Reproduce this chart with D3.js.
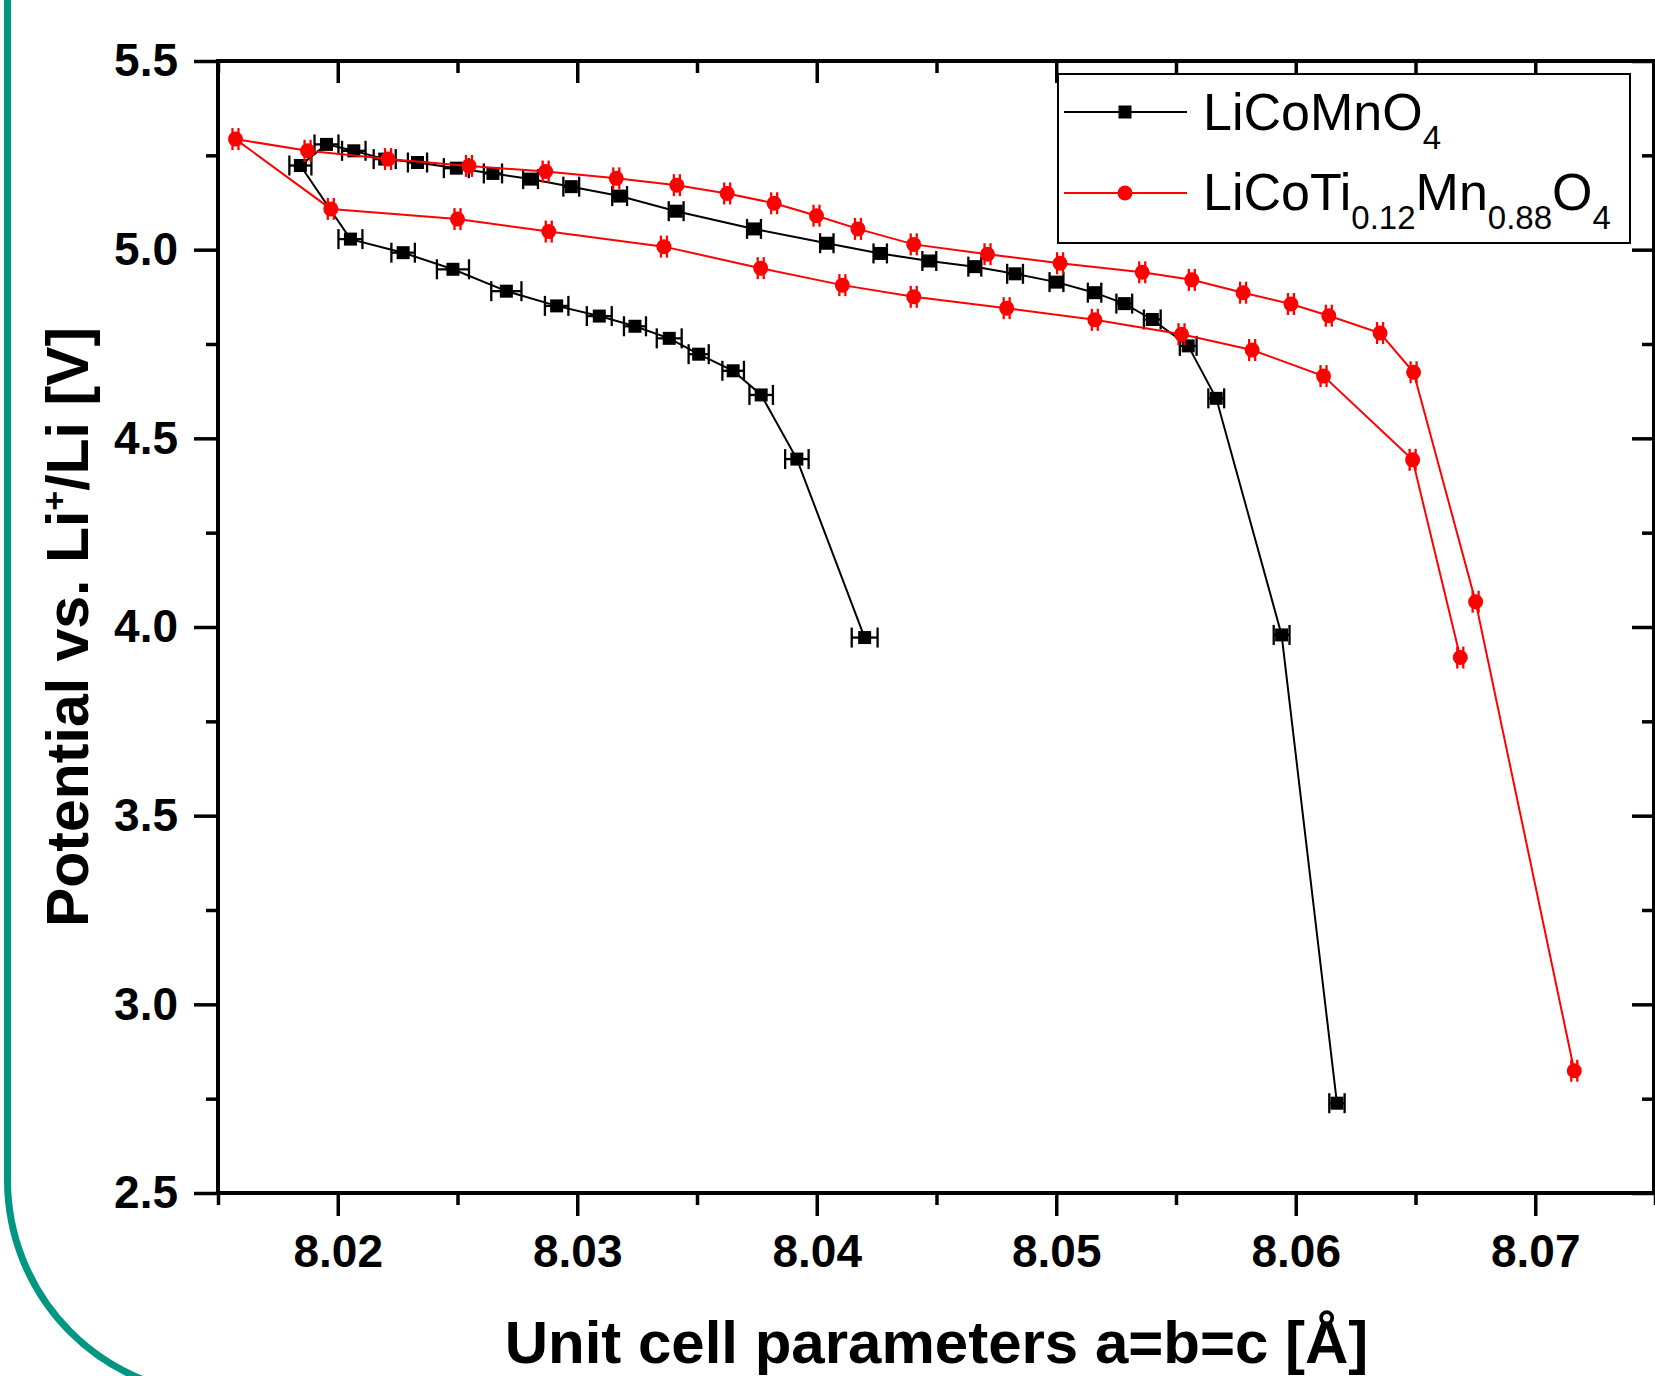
<!DOCTYPE html>
<html>
<head>
<meta charset="utf-8">
<script src="https://cdn.jsdelivr.net/npm/d3@7"></script>
<style>
  html, body { margin: 0; padding: 0; background: #fff; }
  svg { display: block; }
  text { font-family: "Liberation Sans", Arial, Helvetica, sans-serif; }
</style>
</head>
<body>
<svg id="chart" width="1655" height="1376"></svg>
<script>
// ---------------- DATA ----------------
// LiCoMnO4 : unit cell parameter a [Å], potential [V], x-error [Å]
const blackA = [8.0420, 8.03917, 8.03768, 8.03651, 8.03507, 8.03384, 8.03241, 8.03092, 8.02914, 8.02704,
                8.02481, 8.02273, 8.02053, 8.01844, 8.01953, 8.02067, 8.02196, 8.02333, 8.02495, 8.02648,
                8.02805, 8.02975, 8.03177, 8.03413, 8.03738, 8.04042, 8.04265, 8.04470, 8.04660, 8.04828,
                8.05001, 8.05160, 8.05284, 8.05401, 8.05551, 8.05668, 8.05941, 8.06172];
const blackV = [3.972, 4.445, 4.615, 4.679, 4.723, 4.765, 4.797, 4.824, 4.851, 4.890,
                4.948, 4.992, 5.028, 5.223, 5.279, 5.262, 5.240, 5.231, 5.216, 5.202,
                5.187, 5.167, 5.142, 5.102, 5.055, 5.017, 4.990, 4.970, 4.955, 4.936,
                4.914, 4.886, 4.857, 4.815, 4.745, 4.606, 3.979, 2.738];
const blackErr = [0.00054, 0.00049, 0.00049, 0.00045, 0.00042, 0.00052, 0.00046, 0.00052, 0.00049, 0.00063,
                  0.00067, 0.00049, 0.00050, 0.00046, 0.00050, 0.00049, 0.00046, 0.00040, 0.00052, 0.00038,
                  0.00031, 0.00033, 0.00031, 0.00031, 0.00029, 0.00028, 0.00028, 0.00029, 0.00027, 0.00033,
                  0.00029, 0.00028, 0.00033, 0.00035, 0.00035, 0.00033, 0.00033, 0.00032];

// LiCoTi0.12Mn0.88O4
const redA = [8.07163, 8.06751, 8.06492, 8.06352, 8.06138, 8.05980, 8.05780, 8.05566, 8.05359, 8.05016,
              8.04713, 8.04405, 8.04172, 8.03999, 8.03822, 8.03626, 8.03416, 8.03163, 8.02868, 8.02548,
              8.02210, 8.01874, 8.01573, 8.01971, 8.02500, 8.02881, 8.03362, 8.03766, 8.04107, 8.04405,
              8.04793, 8.05161, 8.05523, 8.05818, 8.06116, 8.06488, 8.06687];
const redV = [2.824, 4.067, 4.675, 4.779, 4.825, 4.856, 4.886, 4.920, 4.940, 4.964,
              4.988, 5.014, 5.055, 5.090, 5.123, 5.149, 5.171, 5.189, 5.207, 5.222,
              5.240, 5.262, 5.293, 5.108, 5.081, 5.048, 5.008, 4.951, 4.906, 4.875,
              4.845, 4.814, 4.776, 4.734, 4.665, 4.443, 3.919];
const redErr = redA.map(() => 0.000125);

const seriesNames = ["LiCoMnO4", "LiCoTi0.12Mn0.88O4"];
const xMajor = [8.02, 8.03, 8.04, 8.05, 8.06, 8.07];
const xMinor = [8.015, 8.025, 8.035, 8.045, 8.055, 8.065, 8.075];
const yMajor = [2.5, 3.0, 3.5, 4.0, 4.5, 5.0, 5.5];
const yMinor = [2.75, 3.25, 3.75, 4.25, 4.75, 5.25];

// ---------------- LAYOUT ----------------
const svg = d3.select("#chart");
const L = 218, R = 1655, T = 61, B = 1193;
const x = d3.scaleLinear().domain([8.015, 8.075]).range([L, R]);
const y = d3.scaleLinear().domain([2.5, 5.5]).range([B, T]);

svg.append("rect").attr("width", 1655).attr("height", 1376).attr("fill", "#fff");

// teal frame on the left
svg.append("path")
  .attr("d", "M7.5,-5 V1180 A215,215 0 0 0 222.5,1395")
  .attr("fill", "none").attr("stroke", "#009682").attr("stroke-width", 7);

// ---------------- AXES ----------------
const tickW = 3.5;
function styleAxis(g) {
  g.select(".domain").remove();
  g.selectAll(".tick line").attr("stroke", "#000").attr("stroke-width", tickW);
  g.selectAll(".tick text").attr("fill", "#000").attr("font-size", 46).attr("font-weight", "bold")
    .style("font-family", '"Liberation Sans", Arial, sans-serif');
}
// bottom
svg.append("g").attr("transform", `translate(0,${B})`)
  .call(d3.axisBottom(x).tickValues(xMajor).tickSize(23).tickPadding(18).tickFormat(d3.format(".2f")))
  .call(styleAxis);
svg.append("g").attr("transform", `translate(0,${B})`)
  .call(d3.axisBottom(x).tickValues(xMinor).tickSize(12).tickFormat(""))
  .call(styleAxis);
// top (inward)
svg.append("g").attr("transform", `translate(0,${T})`)
  .call(d3.axisTop(x).tickValues(xMajor).tickSize(-22).tickFormat(""))
  .call(styleAxis);
svg.append("g").attr("transform", `translate(0,${T})`)
  .call(d3.axisTop(x).tickValues(xMinor).tickSize(-12).tickFormat(""))
  .call(styleAxis);
// left
svg.append("g").attr("transform", `translate(${L},0)`)
  .call(d3.axisLeft(y).tickValues(yMajor).tickSize(24).tickPadding(16).tickFormat(d3.format(".1f")))
  .call(styleAxis);
svg.append("g").attr("transform", `translate(${L},0)`)
  .call(d3.axisLeft(y).tickValues(yMinor).tickSize(12).tickFormat(""))
  .call(styleAxis);
// right (inward)
svg.append("g").attr("transform", `translate(${R - 1},0)`)
  .call(d3.axisRight(y).tickValues(yMajor).tickSize(-22).tickFormat(""))
  .call(styleAxis);
svg.append("g").attr("transform", `translate(${R - 1},0)`)
  .call(d3.axisRight(y).tickValues(yMinor).tickSize(-12).tickFormat(""))
  .call(styleAxis);

// frame
svg.append("rect").attr("x", L).attr("y", T).attr("width", R - 1 - L).attr("height", B - T)
  .attr("fill", "none").attr("stroke", "#000").attr("stroke-width", 4);

// ---------------- SERIES ----------------
function drawSeries(A, V, E, color, cap, marker) {
  const pts = A.map((a, i) => ({ a, v: V[i], e: E[i] }));
  const g = svg.append("g");
  g.append("path").datum(pts)
    .attr("d", d3.line().x(d => x(d.a)).y(d => y(d.v)))
    .attr("fill", "none").attr("stroke", color).attr("stroke-width", 2);
  // x error bars with caps
  const eb = g.append("g").attr("stroke", color).attr("stroke-width", 2.3);
  pts.forEach(d => {
    const x0 = x(d.a - d.e), x1 = x(d.a + d.e), yy = y(d.v);
    eb.append("line").attr("x1", x0).attr("x2", x1).attr("y1", yy).attr("y2", yy);
    eb.append("line").attr("x1", x0).attr("x2", x0).attr("y1", yy - cap).attr("y2", yy + cap);
    eb.append("line").attr("x1", x1).attr("x2", x1).attr("y1", yy - cap).attr("y2", yy + cap);
  });
  if (marker === "square") {
    g.selectAll("rect.m").data(pts).join("rect").attr("class", "m")
      .attr("x", d => x(d.a) - 6.5).attr("y", d => y(d.v) - 6.5)
      .attr("width", 13).attr("height", 13).attr("fill", color);
  } else {
    g.selectAll("circle.m").data(pts).join("circle").attr("class", "m")
      .attr("cx", d => x(d.a)).attr("cy", d => y(d.v)).attr("r", 7.5).attr("fill", color);
  }
}
drawSeries(blackA, blackV, blackErr, "#000", 10, "square");
drawSeries(redA, redV, redErr, "#ff0000", 11, "circle");

// ---------------- LEGEND ----------------
const lg = svg.append("g");
lg.append("rect").attr("x", 1058).attr("y", 74).attr("width", 572).attr("height", 169)
  .attr("fill", "#fff").attr("stroke", "#000").attr("stroke-width", 2);
lg.append("line").attr("x1", 1064).attr("x2", 1187).attr("y1", 112).attr("y2", 112)
  .attr("stroke", "#000").attr("stroke-width", 2);
lg.append("rect").attr("x", 1118.5).attr("y", 105.5).attr("width", 13).attr("height", 13).attr("fill", "#000");
lg.append("line").attr("x1", 1064).attr("x2", 1187).attr("y1", 193).attr("y2", 193)
  .attr("stroke", "#ff0000").attr("stroke-width", 2);
lg.append("circle").attr("cx", 1125).attr("cy", 193).attr("r", 7.5).attr("fill", "#ff0000");

function formula(parent, xPos, yPos, parts) {
  const t = parent.append("text").attr("x", xPos).attr("y", yPos).attr("font-size", 52).attr("fill", "#000");
  parts.forEach(p => {
    if (p.sub) {
      t.append("tspan").attr("font-size", 33).attr("dy", 19).text(p.t);
    } else {
      t.append("tspan").attr("dy", p.back ? -19 : 0).text(p.t);
    }
  });
}
formula(lg, 1203, 130, [{ t: "LiCoMnO" }, { t: "4", sub: true }]);
formula(lg, 1203, 210, [{ t: "LiCoTi" }, { t: "0.12", sub: true }, { t: "Mn", back: true },
  { t: "0.88", sub: true }, { t: "O", back: true }, { t: "4", sub: true }]);

// ---------------- TITLES ----------------
svg.append("text").attr("x", (L + R) / 2).attr("y", 1363).attr("text-anchor", "middle")
  .attr("font-size", 60).attr("font-weight", "bold").text("Unit cell parameters a=b=c [Å]");

const yt = svg.append("text").attr("transform", `translate(88,${(T + B) / 2}) rotate(-90)`)
  .attr("text-anchor", "middle").attr("font-size", 59).attr("font-weight", "bold");
yt.append("tspan").text("Potential vs. Li");
yt.append("tspan").attr("font-size", 34).attr("dy", -22).text("+");
yt.append("tspan").attr("dy", 22).text("/Li [V]");
</script>
</body>
</html>
